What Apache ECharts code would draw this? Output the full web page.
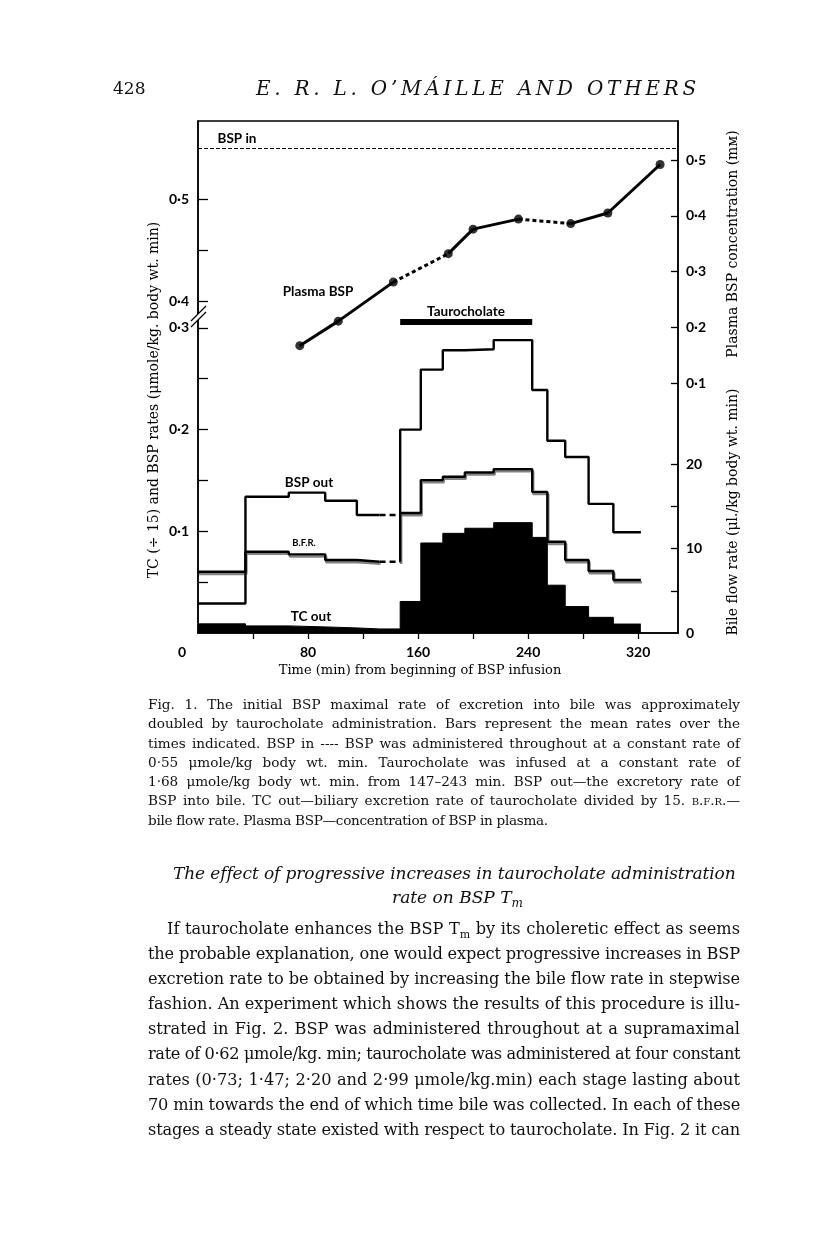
<!DOCTYPE html>
<html>
<head>
<meta charset="utf-8">
<script src="https://cdn.jsdelivr.net/npm/echarts@6/dist/echarts.min.js"></script>
<style>
  html, body { margin: 0; padding: 0; background: #fff; }
  body { width: 816px; height: 1249px; position: relative; overflow: hidden; }
  #chart { position: absolute; left: 0; top: 0; width: 816px; height: 1249px; }
  .t { position: absolute; font-family: "DejaVu Serif", serif; color: #111; white-space: nowrap; }
  .jl { text-align: justify; text-align-last: justify; }
  .fit { text-align: left; }
  .sc { font-variant: small-caps; }
</style>
</head>
<body>
<div id="chart"></div>

<div class="t" style="left:113px;top:78px;font-size:17px;line-height:20px">428</div>
<div class="t fit" data-w="444" style="left:256px;top:76px;font-size:20px;line-height:24px;font-style:italic">E. R. L. O’MÁILLE AND OTHERS</div>

<div id="caption" style="position:absolute;left:148px;top:695px;width:592px;font-size:13.6px;line-height:19.3px">
  <div class="t jl" style="position:relative;width:592px">Fig. 1. The initial BSP maximal rate of excretion into bile was approximately</div>
  <div class="t jl" style="position:relative;width:592px">doubled by taurocholate administration. Bars represent the mean rates over the</div>
  <div class="t jl" style="position:relative;width:592px">times indicated. BSP in ---- BSP was administered throughout at a constant rate of</div>
  <div class="t jl" style="position:relative;width:592px">0·55 μmole/kg body wt. min. Taurocholate was infused at a constant rate of</div>
  <div class="t jl" style="position:relative;width:592px">1·68 μmole/kg body wt. min. from 147–243 min. BSP out—the excretory rate of</div>
  <div class="t jl" style="position:relative;width:592px">BSP into bile. TC out—biliary excretion rate of taurocholate divided by 15. <span class="sc">b.f.r.</span>—</div>
  <div class="t" style="position:relative;letter-spacing:-0.3px">bile flow rate. Plasma BSP—concentration of BSP in plasma.</div>
</div>

<div class="t fit" data-w="562" style="left:173px;top:861px;font-size:17px;line-height:24px;font-style:italic">The effect of progressive increases in taurocholate administration</div>
<div class="t" style="left:392px;top:885px;font-size:17px;line-height:24px;font-style:italic">rate on BSP T<sub style="font-size:12px">m</sub></div>

<div id="body" style="position:absolute;left:148px;top:916px;width:592px;font-size:16.2px;line-height:25.1px">
  <div class="t jl" style="position:relative;width:573px;margin-left:19px">If taurocholate enhances the BSP T<sub style="font-size:11px;line-height:0">m</sub> by its choleretic effect as seems</div>
  <div class="t jl" style="position:relative;width:592px">the probable explanation, one would expect progressive increases in BSP</div>
  <div class="t jl" style="position:relative;width:592px">excretion rate to be obtained by increasing the bile flow rate in stepwise</div>
  <div class="t jl" style="position:relative;width:592px">fashion. An experiment which shows the results of this procedure is illu-</div>
  <div class="t jl" style="position:relative;width:592px">strated in Fig. 2. BSP was administered throughout at a supramaximal</div>
  <div class="t jl" style="position:relative;width:592px">rate of 0·62 μmole/kg. min; taurocholate was administered at four constant</div>
  <div class="t jl" style="position:relative;width:592px">rates (0·73; 1·47; 2·20 and 2·99 μmole/kg.min) each stage lasting about</div>
  <div class="t jl" style="position:relative;width:592px">70 min towards the end of which time bile was collected. In each of these</div>
  <div class="t jl" style="position:relative;width:592px">stages a steady state existed with respect to taurocholate. In Fig. 2 it can</div>
</div>

<script>
// step boundaries (min) shared by the three bar series
const timeEdges = [0, 34.5, 66, 92.5, 115.5, 132, 147, 162, 178, 194, 215, 243, 254, 267, 284, 302, 322];
// mean rate in each interval
const bspOut = [0.029, 0.134, 0.138, 0.130, 0.116, 0.116, 0.200, 0.259, 0.278, 0.279, 0.288, 0.239, 0.189, 0.173, 0.127, 0.099];
const bileFlow = [7.25, 9.62, 9.31, 8.64, 8.44, 8.44, 14.2, 18.1, 18.5, 19.0, 19.4, 16.7, 10.8, 8.64, 7.34, 6.27];
const tcOut = [0.009, 0.007, 0.006, 0.005, 0.004, 0.004, 0.031, 0.0885, 0.098, 0.103, 0.1085, 0.094, 0.047, 0.026, 0.0154, 0.0088];
const gapInterval = 5; // drawn dashed (no collection)

const plasmaTime = [74, 102, 142, 182, 200, 233, 271, 298, 336];
const plasmaConc = [0.167, 0.211, 0.281, 0.332, 0.376, 0.394, 0.386, 0.405, 0.492];
const plasmaDashed = [false, false, true, false, false, true, false, false];

const bspIn = 0.55;
const tauroPeriod = [147, 243];

const xTicks = [40, 80, 120, 160, 200, 240, 280, 320];
const xLabels = [0, 80, 160, 240, 320];
const leftTicks = [0.05, 0.1, 0.15, 0.2, 0.25, 0.3, 0.4, 0.45, 0.5];
const leftLabels = [0.1, 0.2, 0.3, 0.4, 0.5];
const bileTicks = [5, 10, 15, 20];
const bileLabels = [0, 10, 20];
const plasmaTicks = [0.1, 0.2, 0.3, 0.4, 0.5];

// left axis is broken between 0.3 and 0.4
const BREAK_SHIFT = 0.0736;
const brk = v => (v >= 0.4 ? v - BREAK_SHIFT : v);
const unbrk = v => (v > 0.31 ? v + BREAK_SHIFT : v);
const dot = v => (Math.round(v * 10) / 10).toFixed(1).replace('.', '·');

function stepPts(vals, i0, i1, lead) {
  const pts = lead ? [[timeEdges[i0], vals[i0 - 1]]] : [];
  for (let i = i0; i <= i1; i++) {
    pts.push([timeEdges[i], vals[i]], [timeEdges[i + 1], vals[i]]);
  }
  return pts;
}

const last = timeEdges.length - 2;
const series = [];

// TC out: filled black bars
series.push({
  type: 'line', yAxisIndex: 0, symbol: 'none', silent: true,
  data: stepPts(tcOut, 0, last).map(p => [p[0], brk(p[1])]),
  lineStyle: { color: '#000', width: 1 },
  areaStyle: { color: '#000', opacity: 1 }
});

function stepLine(vals, axis, solidStyle) {
  const parts = [
    { pts: stepPts(vals, 0, gapInterval - 1), dashed: false },
    { pts: stepPts(vals, gapInterval, gapInterval), dashed: true },
    { pts: stepPts(vals, gapInterval + 1, last, true), dashed: false }
  ];
  parts.forEach(p => {
    series.push({
      type: 'line', yAxisIndex: axis, symbol: 'none', silent: true, data: p.pts,
      lineStyle: p.dashed
        ? { color: '#000', width: 2.6, type: [6, 4] }
        : solidStyle
    });
  });
}

stepLine(bspOut, 0, { color: '#000', width: 2.4 });
// B.F.R. drawn as a line with a grey hatched band just under it
stepLine(bileFlow, 1, {
  color: '#000', width: 2.4,
  shadowColor: 'rgba(30,30,30,0.55)', shadowBlur: 0, shadowOffsetX: 1, shadowOffsetY: 2.2
});

// BSP in (infusion rate)
series.push({
  type: 'line', yAxisIndex: 0, symbol: 'none', silent: true,
  data: [[0, brk(bspIn)], [349, brk(bspIn)]],
  lineStyle: { color: '#000', width: 1.2, type: [4, 2] }
});

// taurocholate infusion bar
series.push({
  type: 'line', yAxisIndex: 1, symbol: 'none', silent: true,
  data: [[tauroPeriod[0], 36.8], [tauroPeriod[1], 36.8]],
  lineStyle: { color: '#000', width: 6, cap: 'butt' }
});

// plasma BSP
for (let i = 0; i < plasmaTime.length - 1; i++) {
  series.push({
    type: 'line', yAxisIndex: 2, symbol: 'none', silent: true,
    data: [[plasmaTime[i], plasmaConc[i]], [plasmaTime[i + 1], plasmaConc[i + 1]]],
    lineStyle: { color: '#000', width: 3, type: plasmaDashed[i] ? [4, 3] : 'solid' }
  });
}
series.push({
  type: 'scatter', yAxisIndex: 2, symbol: 'circle', symbolSize: 9, silent: true,
  data: plasmaTime.map((t, i) => [t, plasmaConc[i]]),
  itemStyle: { color: '#000' }
});

const tickFont = { fontFamily: 'Lato', fontWeight: 'bold', fontSize: 14, color: '#000' };
const axisLine = { show: true, lineStyle: { color: '#000', width: 1.5 } };
const tickStyle = { color: '#000', width: 1.3 };

const labelFont = 'bold 13.5px Lato';
const serif = '14px "DejaVu Serif"';
function txt(x, y, text, font, rot) {
  return {
    type: 'text', x: x, y: y, rotation: rot || 0, silent: true,
    style: { text: text, font: font, fill: '#000', align: 'center', verticalAlign: 'middle',
      textAlign: 'center', textVerticalAlign: 'middle' }
  };
}

const chart = echarts.init(document.getElementById('chart'));
chart.setOption({
  animation: false,
  grid: { left: 198, top: 121, width: 480, height: 512, show: true, borderColor: '#000', borderWidth: 1.5 },
  xAxis: {
    type: 'value', min: 0, max: 349,
    axisLine: axisLine,
    splitLine: { show: false },
    axisTick: { customValues: xTicks, inside: false, length: 6, lineStyle: tickStyle },
    axisLabel: Object.assign({
      customValues: xLabels, margin: 12,
      formatter: v => (v === 0 ? '{z|0}' : String(v)),
      rich: { z: Object.assign({ padding: [0, 32, 0, 0] }, tickFont) }
    }, tickFont)
  },
  yAxis: [
    {
      type: 'value', position: 'left', min: 0, max: 0.50344,
      axisLine: axisLine, splitLine: { show: false },
      axisTick: { customValues: leftTicks.map(brk), inside: true, length: 10, lineStyle: tickStyle },
      axisLabel: Object.assign({ customValues: leftLabels.map(brk), margin: 9, formatter: v => dot(unbrk(v)) }, tickFont)
    },
    {
      type: 'value', position: 'right', min: 0, max: 60.6,
      axisLine: axisLine, splitLine: { show: false },
      axisTick: { customValues: bileTicks, inside: true, length: 7, lineStyle: tickStyle },
      axisLabel: Object.assign({ customValues: bileLabels, margin: 8, formatter: v => String(v) }, tickFont)
    },
    {
      type: 'value', position: 'right', min: -0.3484, max: 0.570,
      axisLine: { show: false }, splitLine: { show: false },
      axisTick: { customValues: plasmaTicks, inside: true, length: 7, lineStyle: tickStyle },
      axisLabel: Object.assign({ customValues: plasmaTicks, margin: 8, formatter: v => dot(v) }, tickFont)
    }
  ],
  series: series,
  graphic: [
    // axis break marks
    { type: 'polygon', silent: true, z: 100, shape: { points: [[191, 321], [206, 306], [206, 312], [191, 327]] }, style: { fill: '#fff' } },
    { type: 'line', silent: true, z: 101, shape: { x1: 191, y1: 321, x2: 206, y2: 306 }, style: { stroke: '#000', lineWidth: 1.2 } },
    { type: 'line', silent: true, z: 101, shape: { x1: 191, y1: 327, x2: 206, y2: 312 }, style: { stroke: '#000', lineWidth: 1.2 } },
    txt(237, 139, 'BSP in', labelFont),
    txt(318, 292, 'Plasma BSP', labelFont),
    txt(466, 312, 'Taurocholate', labelFont),
    txt(309, 483, 'BSP out', labelFont),
    txt(304, 543, 'B.F.R.', 'bold 9.5px Lato'),
    txt(311, 617, 'TC out', labelFont),
    txt(154, 400, 'TC (÷ 15) and BSP rates (μmole/kg. body wt. min)', serif, Math.PI / 2),
    txt(733, 512, 'Bile flow rate (μl./kg body wt. min)', serif, Math.PI / 2),
    txt(733, 244, 'Plasma BSP concentration (mᴍ)', serif, Math.PI / 2),
    txt(420, 671, 'Time (min) from beginning of BSP infusion', '13px "DejaVu Serif"')
  ]
});

// fit justified text lines into their boxes
document.querySelectorAll('.jl').forEach(el => {
  const w = el.clientWidth;
  const sw = el.scrollWidth;
  if (sw > w) el.style.letterSpacing = ((w - sw) / el.textContent.length) + 'px';
});
document.querySelectorAll('.fit').forEach(el => {
  const target = +el.dataset.w;
  const w = el.getBoundingClientRect().width;
  const n = el.textContent.length;
  el.style.letterSpacing = ((target - w) / n) + 'px';
});
</script>
</body>
</html>
